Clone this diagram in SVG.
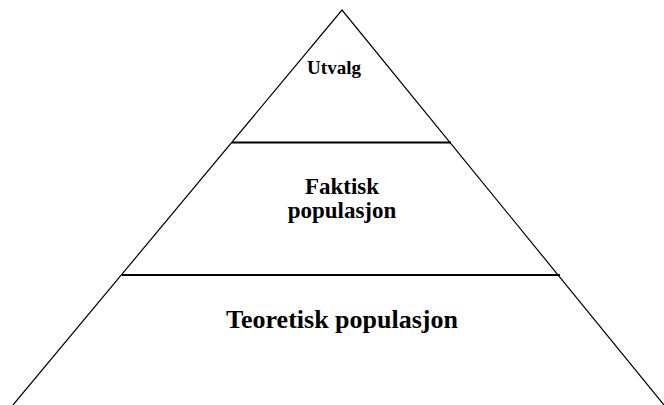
<svg xmlns="http://www.w3.org/2000/svg" width="664" height="405" viewBox="0 0 664 405">
<style>
.edge{stroke:#000;stroke-width:1.2;fill:none}
.div{stroke:#000;stroke-width:2;fill:none}
text{font-family:"Liberation Serif","Times New Roman",serif;font-weight:bold;fill:#000;text-anchor:middle}
</style>
<rect width="664" height="405" fill="#fff"/>
<g id="connectors">
<polyline class="edge" points="13,405 342,10 664,405"/>
<line class="div" x1="232" y1="142.5" x2="451" y2="142.5"/>
<line class="div" x1="122" y1="275" x2="560" y2="275"/>
</g>
<g id="utvalg"><text x="334" y="74" font-size="19">Utvalg</text></g>
<g id="faktisk"><text x="342" y="194" font-size="23">Faktisk</text><text x="342" y="218" font-size="23">populasjon</text></g>
<g id="teoretisk"><text x="342" y="328" font-size="26">Teoretisk populasjon</text></g>
</svg>
